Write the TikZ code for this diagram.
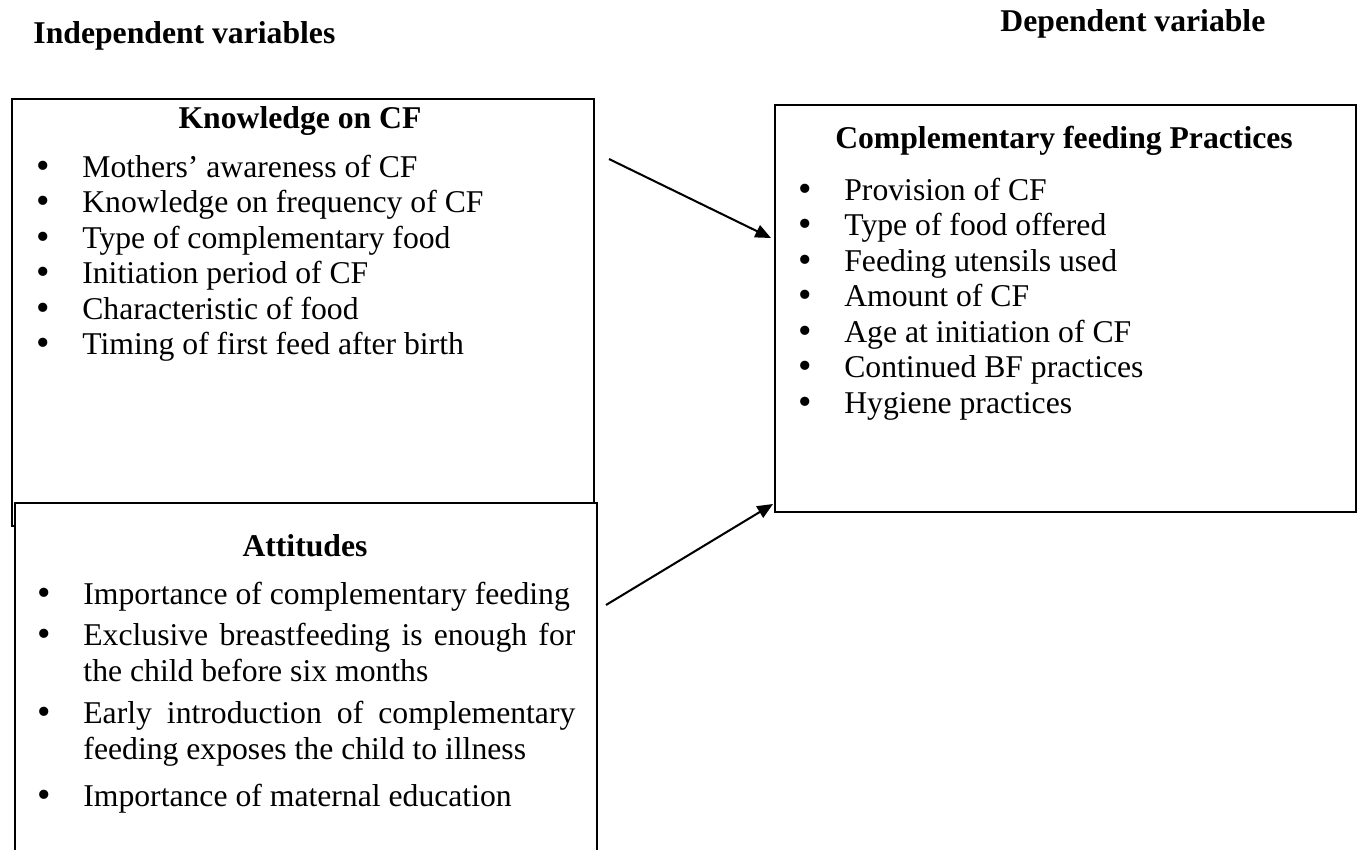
\documentclass[tikz,border=0pt]{standalone}
\usepackage{fontspec}
\setmainfont{Liberation Serif}
\usetikzlibrary{arrows.meta}
\newcommand\pxu{0.41667pt}
\newcommand\bul[1]{\makebox[0pt]{\fontsize{16}{16}\selectfont\raisebox{-0.6pt}{\textbullet}}\hspace{16.2pt}#1}

\begin{document}
\begin{tikzpicture}[x=\pxu, y=-\pxu,
  box/.style = {draw, line width=0.85pt, fill=white, anchor=north west, inner sep=0pt},
  txt/.style = {font=\fontsize{13.2}{15}\selectfont, anchor=base west, inner sep=0pt},
  head/.style = {font=\fontsize{13.2}{15}\selectfont\bfseries, anchor=base, inner sep=0pt},
  side/.style = {head, anchor=base west},
  link/.style = {-{Triangle[length=6.5pt,width=5.5pt]}, line width=0.85pt}]
      \clip (0,0) rectangle (1360,850);

      % headings
      \node[side] (indep) at (33,43) {Independent variables};
      \node[side] (dep) at (1000,31) {Dependent variable};

      % boxes
      \node[box, minimum width=582*\pxu, minimum height=427*\pxu] (know) at (11,98) {};
      \node[box, minimum width=582*\pxu, minimum height=400*\pxu] (att) at (14,502) {};
      \node[box, minimum width=581*\pxu, minimum height=407*\pxu] (cfp) at (774,104) {};

      % knowledge
      \node[head] (know-t) at (300,128) {Knowledge on CF};
      \node[txt] (k1) at (43,177) {\bul{Mothers’ awareness of CF}};
      \node[txt] (k2) at (43,212.5) {\bul{Knowledge on frequency of CF}};
      \node[txt] (k3) at (43,248) {\bul{Type of complementary food}};
      \node[txt] (k4) at (43,283.5) {\bul{Initiation period of CF}};
      \node[txt] (k5) at (43,319) {\bul{Characteristic of food}};
      \node[txt] (k6) at (43,354.5) {\bul{Timing of first feed after birth}};

      % attitudes
      \node[head] (att-t) at (305,556) {Attitudes};
      \node[txt] (a1) at (44,604) {\bul{Importance of complementary feeding}};
      \node[txt] (a2) at (44,645) {\bul{\makebox[492\dimexpr\pxu\relax][s]{Exclusive breastfeeding is enough for}}};
      \node[txt] (a2b) at (83,681) {the child before six months};
      \node[txt] (a3) at (44,723) {\bul{\makebox[492\dimexpr\pxu\relax][s]{Early introduction of complementary}}};
      \node[txt] (a3b) at (83,759) {feeding exposes the child to illness};
      \node[txt] (a4) at (44,806) {\bul{Importance of maternal education}};

      % practices
      \node[head] (cfp-t) at (1064,148) {Complementary feeding Practices};
      \node[txt] (c1) at (805,200) {\bul{Provision of CF}};
      \node[txt] (c2) at (805,235.5) {\bul{Type of food offered}};
      \node[txt] (c3) at (805,271) {\bul{Feeding utensils used}};
      \node[txt] (c4) at (805,306.5) {\bul{Amount of CF}};
      \node[txt] (c5) at (805,342) {\bul{Age at initiation of CF}};
      \node[txt] (c6) at (805,377.5) {\bul{Continued BF practices}};
      \node[txt] (c7) at (805,413) {\bul{Hygiene practices}};

      \coordinate (know-out) at (609,159);
      \coordinate (cfp-in1) at (771,238);
      \coordinate (att-out) at (606,605);
      \coordinate (cfp-in2) at (773,504);

      \path[link]
      (know-out) edge (cfp-in1)
      (att-out)  edge (cfp-in2);
    \end{tikzpicture}
\end{document}
